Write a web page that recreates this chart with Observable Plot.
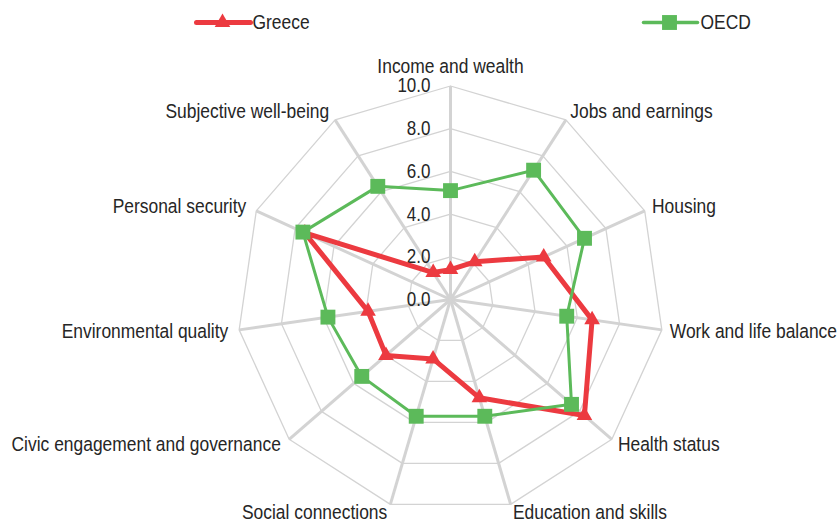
<!DOCTYPE html>
<html>
<head>
<meta charset="utf-8">
<script src="https://cdn.jsdelivr.net/npm/d3@7"></script>
<script src="https://cdn.jsdelivr.net/npm/@observablehq/plot@0.6"></script>
<style>
  html, body { margin: 0; padding: 0; background: #ffffff; }
  #chart svg { display: block; }
</style>
</head>
<body>
<div id="chart"></div>
<script>
// ---- Data ----
const dimensions = [
  "Income and wealth", "Jobs and earnings", "Housing", "Work and life balance",
  "Health status", "Education and skills", "Social connections",
  "Civic engagement and governance", "Environmental quality",
  "Personal security", "Subjective well-being"
];
const greece = [1.4, 2.1, 4.8, 6.7, 8.3, 4.8, 2.9, 4.0, 3.9, 7.5, 1.5];
const oecd   = [5.1, 7.2, 6.9, 5.5, 7.5, 5.7, 5.7, 5.5, 5.8, 7.6, 6.3];
const seriesNames = ["Greece", "OECD"];
const tickValues = [0, 2, 4, 6, 8, 10];
const tickLabels = ["0.0", "2.0", "4.0", "6.0", "8.0", "10.0"];

// ---- Layout ----
const W = 839, H = 521;
const cx = 450, cy = 299, unit = 21.35;  // px per value unit
const xDomain = [-cx / unit, (W - cx) / unit];
const yDomain = [-(H - cy) / unit, cy / unit];
const n = dimensions.length;
const ang = i => i * 2 * Math.PI / n;
const pt = (v, i) => ({x: v * Math.sin(ang(i)), y: v * Math.cos(ang(i))});
const px2x = p => xDomain[0] + p / unit;
const py2y = p => yDomain[1] - p / unit;

const red = "#ec3a40", green = "#5cba5a", grid = "#d3d3d3", ink = "#262626";
const font = "'Liberation Sans', Arial, sans-serif";
const condense = 0.85;

const rings = tickValues.filter(t => t > 0).flatMap(t =>
  d3.range(n + 1).map(i => ({ring: t, ...pt(t, i % n)})));
const spokes = dimensions.map((d, i) => {
  const e = pt(tickValues[tickValues.length - 1], i);
  return {dim: d, x1: 0, y1: 0, x2: e.x, y2: e.y};
});
const ticksData = tickValues.map((t, k) => ({value: t, label: tickLabels[k]}));

const seriesValues = [greece, oecd];
const rows = seriesNames.flatMap((s, k) =>
  seriesValues[k].map((v, i) => ({series: s, dim: dimensions[i], value: v, ...pt(v, i)})));

const labels = dimensions.map((d, i) => {
  const s = Math.sin(ang(i)), c = Math.cos(ang(i));
  const e = pt(10, i);
  const dxp = s * (s < 0 ? 11 : 8);
  const dyp = Math.min(-c * 10, -c * 8) - (Math.abs(s) < 0.1 ? 10 : 0);
  return {
    dim: d,
    x: e.x + dxp / unit,
    y: e.y - dyp / unit,
    anchor: s > 0.1 ? "start" : (s < -0.1 ? "end" : "middle")
  };
});

// legend layout (pixel positions converted to data units)
const legendY = py2y(22);
const legendItems = [
  {series: seriesNames[0], lx1: px2x(196), lx2: px2x(250), mx: px2x(222), tx: px2x(252)},
  {series: seriesNames[1], lx1: px2x(643), lx2: px2x(697), mx: px2x(669), tx: px2x(700)}
];

const chart = Plot.plot({
  width: W,
  height: H,
  margin: 0,
  x: {domain: xDomain, axis: null},
  y: {domain: yDomain, axis: null},
  style: {fontFamily: font, background: "#fff", overflow: "visible"},
  marks: [
    Plot.line(rings, {x: "x", y: "y", z: "ring", stroke: grid, strokeWidth: 1.3}),
    Plot.link(spokes, {x1: "x1", y1: "y1", x2: "x2", y2: "y2", stroke: grid, strokeWidth: 3}),
    Plot.text(ticksData, {x: () => 0, y: "value", text: "label", dx: -20, textAnchor: "end",
      fontSize: 20, fill: ink}),
    ...["start", "middle", "end"].map(a =>
      Plot.text(labels.filter(l => l.anchor === a), {x: "x", y: "y", text: "dim", textAnchor: a,
        fontSize: 20.5, fill: ink})),
    Plot.line(rows.filter(r => r.series === seriesNames[0]), {x: "x", y: "y", curve: "linear-closed",
      stroke: red, strokeWidth: 5, strokeLinejoin: "round"}),
    Plot.dot(rows.filter(r => r.series === seriesNames[0]), {x: "x", y: "y", symbol: "triangle",
      r: 5.8, fill: red, stroke: "none"}),
    Plot.line(rows.filter(r => r.series === seriesNames[1]), {x: "x", y: "y", curve: "linear-closed",
      stroke: green, strokeWidth: 3, strokeLinejoin: "round"}),
    Plot.dot(rows.filter(r => r.series === seriesNames[1]), {x: "x", y: "y", symbol: "square",
      r: 8.4, fill: green, stroke: "none"}),
    Plot.link(legendItems, {x1: "lx1", x2: "lx2", y1: () => legendY, y2: () => legendY,
      stroke: d => d.series === seriesNames[0] ? red : green,
      strokeWidth: d => d.series === seriesNames[0] ? 5 : 3.5, strokeLinecap: "round"}),
    Plot.dot(legendItems.slice(0, 1), {x: "mx", y: () => legendY, symbol: "triangle", r: 5.8, fill: red, stroke: "none"}),
    Plot.dot(legendItems.slice(1), {x: "mx", y: () => legendY, symbol: "square", r: 8.4, fill: green, stroke: "none"}),
    Plot.text(legendItems, {x: "tx", y: () => legendY, text: "series", textAnchor: "start",
      fontSize: 20.5, fill: ink})
  ]
});
document.getElementById("chart").appendChild(chart);

// condense the text horizontally (the reference uses a narrow face)
chart.querySelectorAll("text").forEach(t => {
  const w = t.getComputedTextLength();
  if (w > 0) {
    t.setAttribute("textLength", (w * condense).toFixed(2));
    t.setAttribute("lengthAdjust", "spacingAndGlyphs");
  }
});
</script>
</body>
</html>
